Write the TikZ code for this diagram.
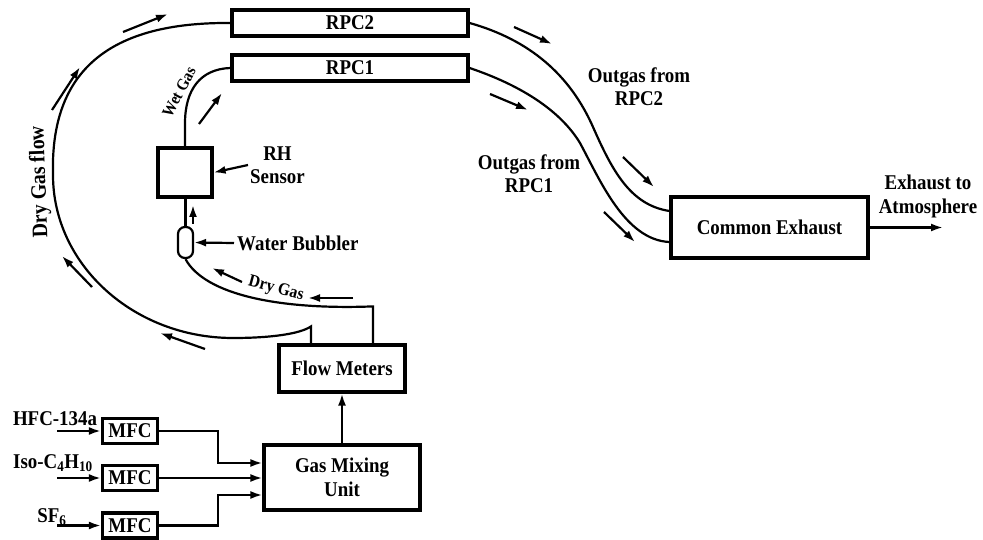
\documentclass[tikz,border=0pt]{standalone}
\usepackage{fontspec}
\setmainfont{Liberation Serif}[FakeStretch=0.9]
\usetikzlibrary{arrows.meta}
\begin{document}
\begin{tikzpicture}[x=1pt,y=-1pt,
  font=\bfseries\fontsize{21}{23.5}\selectfont,
  box/.style={draw, line width=3.2pt, inner sep=0pt, align=center},
  pipe/.style={line width=2.2pt},
  arr/.style={line width=2.2pt, -{Latex[length=12pt,width=8pt]}},
  lbl/.style={align=center, inner sep=1pt}]
\useasboundingbox (0,0) rectangle (983,540);

% boxes
\node[box, minimum width=236pt, minimum height=26pt] (rpc2) at (350,23) {RPC2};
\node[box, minimum width=236pt, minimum height=26pt] (rpc1) at (350,68) {RPC1};
\node[box, minimum width=54pt, minimum height=49pt] (rh) at (185,172.5) {};
\node[draw, line width=2.2pt, rounded corners=7pt, minimum width=15pt, minimum height=31pt, inner sep=0pt] (bub) at (185.5,242.5) {};
\node[box, minimum width=126pt, minimum height=47pt] (fm) at (342,368.5) {Flow Meters};
\node[box, minimum width=156pt, minimum height=65pt] (gmu) at (342,477.5) {Gas Mixing\\Unit};
\node[box, minimum width=55pt, minimum height=25pt] (mfc1) at (130,431) {MFC};
\node[box, minimum width=55pt, minimum height=25pt] (mfc2) at (130,478) {MFC};
\node[box, minimum width=55pt, minimum height=25pt] (mfc3) at (130,525.5) {MFC};
\node[box, minimum width=197pt, minimum height=61pt] (exh) at (769.5,227.5) {Common Exhaust};

% labels
\node[lbl, anchor=west, inner sep=2pt] (rhl) at (248,165) {RH\\Sensor};
\node[lbl, anchor=west, inner sep=3pt] (wbl) at (234,243) {Water Bubbler};
\node[lbl, rotate=-15, font=\bfseries\fontsize{17.5}{20}\selectfont] (dgl) at (276,289) {Dry Gas};
\node[lbl, rotate=62, font=\bfseries\fontsize{16.5}{19}\selectfont] (wgl) at (179,92) {Wet Gas};
\node[lbl, rotate=92, font=\bfseries\fontsize{22}{25}\selectfont] (dgfl) at (40,182) {Dry Gas flow};
\node[lbl] (og2) at (639,86.5) {Outgas from\\RPC2};
\node[lbl] (og1) at (529,173.5) {Outgas from\\RPC1};
\node[lbl] (atml) at (928,196.5) {Exhaust to\\Atmosphere};
\node[inner sep=0pt, anchor=base] (hfc) at (55,425) {HFC-134a};
\node[inner sep=0pt, anchor=base] (iso) at (53,468) {Iso-C\textsubscript{4}H\textsubscript{10}};
\node[inner sep=0pt, anchor=base] (sf6) at (52,522) {SF\textsubscript{6}};

% inputs
\coordinate (in1) at (57,431);
\coordinate (in2) at (57,478);
\coordinate (in3) at (57,525.5);
\draw[arr] (in1) -- (mfc1.west);
\draw[arr] (in2) -- (mfc2.west);
\draw[arr] (in3) -- (mfc3.west);

% MFC to mixing unit
\draw[arr] (mfc1.east) -- ++(59,0) |- ([yshift=14.5pt]gmu.west);
\draw[arr] (mfc2.east) -- (gmu.west |- mfc2.east);
\draw[arr] (mfc3.east) -- ++(59,0) |- ([yshift=-17.5pt]gmu.west);
\draw[arr] (gmu.north) -- (fm.south);

% dry gas flow (outer)
\draw[pipe] ([xshift=-31pt]fm.north) -- ++(0,-17) .. controls (300,334) and (270,338) .. (233,338)
  .. controls (134,338) and (53,265) .. (53,175)
  .. controls (50,70) and (110,22) .. (rpc2.west);
% dry gas to bubbler (inner)
\draw[pipe] ([xshift=31pt]fm.north) -- ++(0,-37) .. controls (280,310) and (205,295) .. (bub.south);
\draw[pipe] (bub.north) -- (bub.north |- rh.south);
\draw[pipe] (rh.north) -- ++(0,-23) .. controls (185,90) and (200,69) .. (rpc1.west);

% outgas
\draw[pipe] (rpc2.east) .. controls (530,40) and (570,75) .. (593,127)
  .. controls (612,170) and (630,205) .. ([yshift=16.5pt]exh.west);
\draw[pipe] (rpc1.east) .. controls (520,85) and (560,110) .. (580,143)
  .. controls (600,180) and (625,240) .. ([yshift=-14.5pt]exh.west);
\coordinate (atm) at (943,227.5);
\draw[arr] (exh.east) -- (atm);

% pointer arrows
\draw[arr] (rhl.west) -- (rh.east);
\draw[arr] (wbl.west) -- (bub.east);

% flow direction arrows
\draw[arr] (123,32) -- (168,14);
\draw[arr] (52,110) -- (80,67);
\draw[arr] (92,287) -- (62,256);
\draw[arr] (205,349) -- (160,333);
\draw[arr] (199,124) -- (222,93);
\draw[arr] (193,224) -- (193,205);
\draw[arr] (242,282) -- (212,268);
\draw[arr] (353,298) -- (308,298);
\draw[arr] (490,94) -- (528,110);
\draw[arr] (514,27) -- (552,44);
\draw[arr] (623,157) -- (654,187);
\draw[arr] (604,212) -- (635,242);
\end{tikzpicture}
\end{document}
